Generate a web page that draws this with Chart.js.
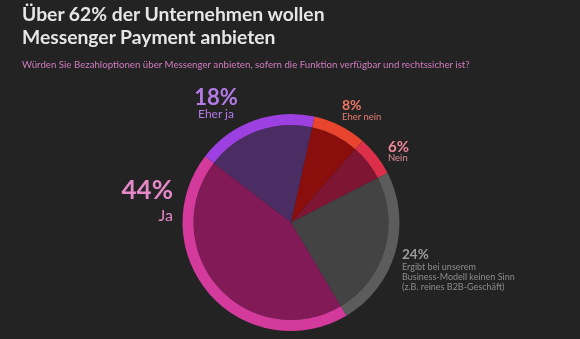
<!DOCTYPE html>
<html><head><meta charset="utf-8">
<script src="https://cdn.jsdelivr.net/npm/chart.js@4"></script>
<style>
html,body{margin:0;padding:0;background:#232323;}
#wrap{position:relative;width:580px;height:339px;overflow:hidden;background:#232323;font-family:Lato,"Open Sans",sans-serif;}
canvas{position:absolute;left:0;top:0;}
.t{position:absolute;white-space:nowrap;}
</style></head><body>
<div id="wrap">
<canvas id="c" width="580" height="339"></canvas>
<div class="t" id="title" style="left:22px;top:1.5px;font-size:19.3px;line-height:23px;font-weight:700;color:#e6e6e6;">Über 62% der Unternehmen wollen<br>Messenger Payment anbieten</div>
<div class="t" id="sub" style="left:22px;top:58px;font-size:9.7px;line-height:12px;color:#d27cc0;"></div>
<div class="t" id="l4v" style="left:166px;width:100px;text-align:center;top:84px;font-size:22px;line-height:26px;font-weight:700;color:#b47be8;"></div>
<div class="t" id="l4n" style="left:166px;width:100px;text-align:center;top:107px;font-size:12px;line-height:14px;color:#b47be8;"></div>
<div class="t" id="l0v" style="left:342px;top:97px;font-size:14px;line-height:16px;font-weight:700;color:#f07565;"></div>
<div class="t" id="l0n" style="left:342px;top:111px;font-size:9.5px;line-height:11px;color:#e27c70;"></div>
<div class="t" id="l1v" style="left:388px;top:137px;font-size:15px;line-height:18px;font-weight:700;color:#f1889a;"></div>
<div class="t" id="l1n" style="left:388px;top:152px;font-size:9.5px;line-height:11px;color:#e0909a;"></div>
<div class="t" id="l3v" style="right:407px;top:174px;font-size:26px;line-height:31px;font-weight:700;color:#e488c8;text-align:right;"></div>
<div class="t" id="l3n" style="right:407px;top:205px;font-size:16px;line-height:19px;color:#e488c8;text-align:right;"></div>
<div class="t" id="l2v" style="left:402px;top:246px;font-size:13.5px;line-height:16px;font-weight:700;color:#9c9c9c;"></div>
<div class="t" id="l2n" style="left:402px;top:262px;font-size:9px;line-height:10px;color:#8c8c8c;"></div>
</div>
<script>
const subtitle = 'Würden Sie Bezahloptionen über Messenger anbieten, sofern die Funktion verfügbar und rechtssicher ist?';
const categories = ['Eher nein', 'Nein', 'Ergibt bei unserem\nBusiness-Modell keinen Sinn\n(z.B. reines B2B-Geschäft)', 'Ja', 'Eher ja'];
const shares = [8, 6, 24, 44, 18];

const ringColors = ['#e8442e', '#db2f4a', '#5c5c5c', '#d43a9c', '#9d40e2'];
const innerColors = ['#8a0f0c', '#7e1532', '#434343', '#821a58', '#4b2d63'];

document.getElementById('sub').textContent = subtitle;
shares.forEach((v, i) => {
  document.getElementById('l' + i + 'v').textContent = v + '%';
  document.getElementById('l' + i + 'n').innerHTML = categories[i].split('\n').map(s => s.replace(/&/g,'&amp;').replace(/</g,'&lt;')).join('<br>');
});

new Chart(document.getElementById('c'), {
  type: 'pie',
  data: {
    labels: categories,
    datasets: [
      { data: shares, backgroundColor: ringColors, borderWidth: 0, hoverOffset: 0, offset: 0, weight: 11 },
      { data: shares, backgroundColor: innerColors, borderWidth: 0, hoverOffset: 0, offset: 0, weight: 97.5 }
    ]
  },
  options: {
    responsive: false,
    animation: false,
    events: [],
    rotation: 12.5,
    layout: { padding: { left: 182.5, right: 180.5, top: 114, bottom: 8 } },
    plugins: { legend: { display: false }, tooltip: { enabled: false }, title: { display: false } }
  }
});
</script>
</body></html>
